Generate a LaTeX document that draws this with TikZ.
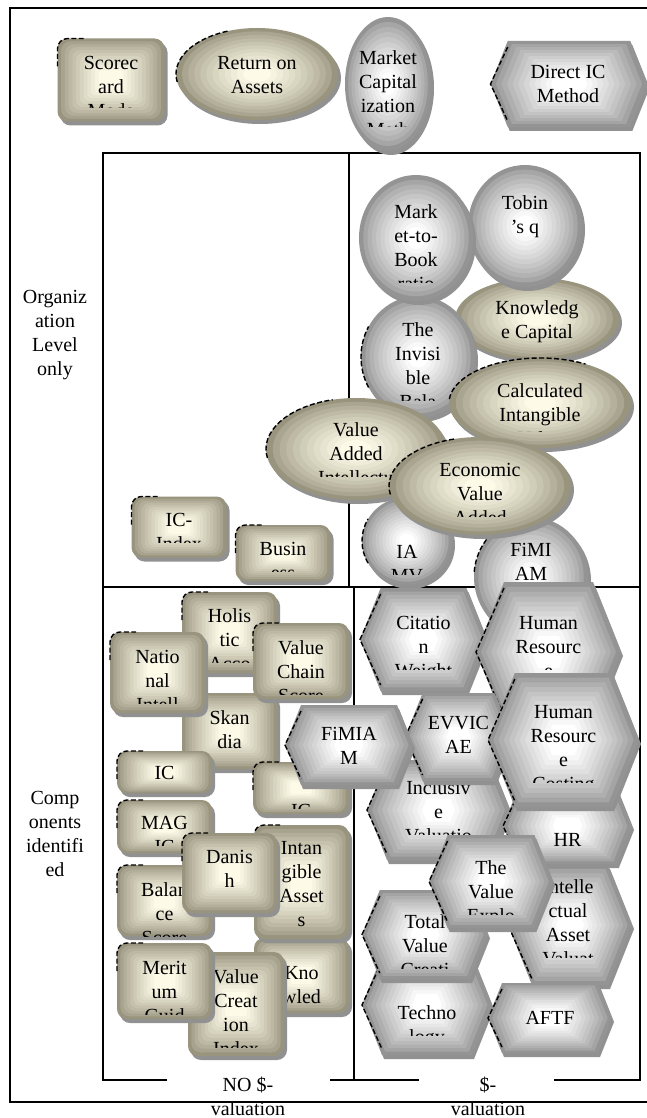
\documentclass[tikz,border=0pt]{standalone}
\usepackage{fontspec}
\setmainfont{Liberation Serif}
\definecolor{tanO}{RGB}{152,148,126}
\definecolor{tanI}{RGB}{253,250,232}
\definecolor{gryO}{RGB}{148,148,148}
\definecolor{gryI}{RGB}{255,255,255}
\definecolor{shd}{RGB}{145,145,145}
\tikzset{
  lbl/.style={font=\fontsize{20}{24}\selectfont, align=center, inner sep=0pt, anchor=north},
  frameline/.style={line width=1.2pt, black},
  artefact/.style={black, line width=1.4pt, dash pattern=on 5pt off 2.5pt}
}
% rounded rectangle: cx cy w h palette
\newcommand\RR[5]{%
  \fill[shd, rounded corners=10pt] (#1-#3/2+3,#2-#4/2+4) rectangle (#1+#3/2+3,#2+#4/2+4);
  \foreach \gI in {0,...,11}{%
    \pgfmathsetmacro\gS{1-\gI*0.07}%
    \pgfmathsetmacro\gP{100*(\gI/11)^0.8}%
    \fill[#5I!\gP!#5O, rounded corners=10pt*\gS] (#1-#3*\gS/2,#2-#4*\gS/2) rectangle (#1+#3*\gS/2,#2+#4*\gS/2);
  }}
% ellipse: cx cy rx ry palette
\newcommand\EL[5]{%
  \fill[shd] (#1+3,#2+4) ellipse [x radius=#3, y radius=#4];
  \foreach \gI in {0,...,11}{%
    \pgfmathsetmacro\gS{1-\gI*0.075}%
    \pgfmathsetmacro\gP{100*(\gI/11)^0.75}%
    \fill[#5I!\gP!#5O] (#1,#2) ellipse [x radius=#3*\gS, y radius=#4*\gS];
  }}
% hexagon: cx cy w h palette
\newcommand\HX[5]{%
  \pgfmathsetmacro\gK{0.2*#4}%
  \fill[shd] (#1-#3/2+2,#2+4) -- (#1-#3/2+\gK+2,#2-#4/2+4) -- (#1+#3/2-\gK+2,#2-#4/2+4) -- (#1+#3/2+2,#2+4) -- (#1+#3/2-\gK+2,#2+#4/2+4) -- (#1-#3/2+\gK+2,#2+#4/2+4) -- cycle;
  \foreach \gI in {0,...,11}{%
    \pgfmathsetmacro\gS{1-\gI*0.07}%
    \pgfmathsetmacro\gP{100*(\gI/11)^0.8}%
    \pgfmathsetmacro\gW{#3*\gS/2}%
    \pgfmathsetmacro\gH{#4*\gS/2}%
    \pgfmathsetmacro\gQ{\gK*\gS}%
    \fill[#5I!\gP!#5O] (#1-\gW,#2) -- (#1-\gW+\gQ,#2-\gH) -- (#1+\gW-\gQ,#2-\gH) -- (#1+\gW,#2) -- (#1+\gW-\gQ,#2+\gH) -- (#1-\gW+\gQ,#2+\gH) -- cycle;
  }
  \draw[artefact] (#1-#3/2+\gK,#2-#4/2+6) -- (#1-#3/2,#2) -- (#1-#3/2+\gK,#2+#4/2-6);}
% artefact marks: rounded rect top-left corner (cx cy w h)
\newcommand\RD[4]{%
  \draw[artefact, rounded corners=10pt] (#1-#3/2,#2-#4/2+28) -- (#1-#3/2,#2-#4/2) -- (#1-#3/2+26,#2-#4/2);}
% ellipse arc (cx cy rx ry start end), user angles (y points down)
\newcommand\ED[6]{%
  \draw[artefact] (#1,#2) ++(#5:#3 and #4) arc[start angle=#5, end angle=#6, x radius=#3, y radius=#4];}
% text: name cx firstline-y clip-y text
\newcommand\TX[5]{%
  \begin{scope}
    \clip (#2-80,#3-30) rectangle (#2+80,#4);
    \node[lbl] (#1) at (#2,#3-9.5) {\rule{0pt}{16pt}#5};
  \end{scope}}

\begin{document}
\begin{tikzpicture}[x=1pt,y=-1pt]
\useasboundingbox (0,0) rectangle (647,1118);
\fill[white] (0,0) rectangle (647,1118);

% frames
\draw[frameline] (647,8) -- (10,8) -- (10,1102) -- (647,1102);
\draw[frameline] (167,1080) -- (103,1080) -- (103,153) -- (640,153) -- (640,1080) -- (554,1080);
\draw[frameline] (330,1080) -- (419,1080);
\draw[frameline] (103,587) -- (640,587);
\draw[frameline] (349,153) -- (349,587);
\draw[frameline] (354,587) -- (354,1080);

% axis labels
\node[lbl] (org) at (55,287.5) {\rule{0pt}{16pt}Organiz\\ation\\Level\\only};
\node[lbl] (comp) at (55,788.5) {\rule{0pt}{16pt}Comp\\onents\\identifi\\ed};
\node[lbl] (nov) at (248,1075.5) {\rule{0pt}{16pt}NO \$-\\valuation};
\node[lbl] (dv) at (488,1075.5) {\rule{0pt}{16pt}\$-\\valuation};

% top row
\RR{111}{80}{107}{83}{tan}\RD{111}{80}{107}{83}\TX{t-sc}{111}{63}{108}{Scorec\\ard\\Mode}
\EL{257}{74}{81}{46}{tan}\ED{257}{74}{81}{46}{170}{250}\TX{t-roa}{257}{63}{200}{Return on\\Assets}
\EL{388}{84}{43}{67}{gry}\TX{t-mcm}{388}{58}{127}{Market\\Capital\\ization\\Meth}
\HX{569}{84}{157}{86}{gry}\TX{t-dic}{568}{72}{200}{Direct IC\\Method}

% organisation level, $-valuation
\EL{537}{319}{82}{41}{tan}\TX{t-kc}{537}{308}{400}{Knowledg\\e Capital}
\EL{525}{226}{57}{61}{gry}\TX{t-tob}{525}{203}{300}{Tobin\\’s q}
\EL{418}{357}{57}{61}{gry}\ED{418}{357}{57}{61}{150}{210}\TX{t-ibs}{418}{330}{400}{The\\Invisi\\ble\\Bala}
\EL{416}{238}{57}{63}{gry}\TX{t-mtb}{416}{212}{282}{Mark\\et-to-\\Book\\ratio}
\EL{540}{403}{91}{45}{tan}\ED{540}{403}{91}{45}{185}{300}\TX{t-civ}{540}{391}{431}{Calculated\\Intangible\\Value}
\EL{356}{449}{90}{51}{tan}\ED{356}{449}{90}{51}{170}{255}\TX{t-vaic}{356}{430}{476}{Value\\Added\\Intellectu}
\EL{407}{541}{45}{44}{gry}\ED{407}{541}{45}{44}{150}{210}\TX{t-iamv}{407}{552}{574}{IA\\MV}
\EL{531}{577}{57}{60}{gry}\ED{531}{577}{57}{60}{185}{260}\TX{t-fim}{531}{550}{600}{FiMI\\AM}
\EL{480}{486}{91}{49}{tan}\ED{480}{486}{91}{49}{170}{255}\TX{t-eva}{480}{470}{516}{Economic\\Value\\Added}
\RR{179}{527}{95}{61}{tan}\RD{179}{527}{95}{61}\TX{t-ici}{179}{520}{542}{IC-\\Index}
\RR{283}{553}{95}{56}{tan}\RD{283}{553}{95}{56}\TX{t-biq}{283}{549}{571}{Busin\\ess}

% components, no $-valuation
\RR{229.5}{632.5}{95}{81}{tan}\RD{229.5}{632.5}{95}{81}\TX{t-hol}{229.5}{616}{662}{Holis\\tic\\Acco}
\RR{229.5}{731}{95}{76}{tan}\TX{t-ska}{229.5}{718}{757}{Skan\\dia\\Navi}
\RR{157.5}{672.5}{95}{81}{tan}\RD{157.5}{672.5}{95}{81}\TX{t-nat}{157.5}{657}{703}{Natio\\nal\\Intell}
\RR{301}{661}{96}{76}{tan}\RD{301}{661}{96}{76}\TX{t-vcs}{301}{648}{694}{Value\\Chain\\Score}
\RR{301}{788}{96}{52}{tan}\RD{301}{788}{96}{52}\TX{t-icx}{301}{811}{808}{IC}
\RR{164.5}{772}{95}{42}{tan}\RD{164.5}{772}{95}{42}\TX{t-icr}{164.5}{773}{784}{IC}
\RR{301.5}{975.5}{95}{75}{tan}\TX{t-kno}{301.5}{973}{1008}{Kno\\wled\\ge}
\RR{301.5}{882}{95}{114}{tan}\RD{301.5}{882}{95}{114}\TX{t-iam}{301.5}{848}{935}{Intan\\gible\\Asset\\s}
\RR{164.5}{826.5}{95}{53}{tan}\RD{164.5}{826.5}{95}{53}\TX{t-mag}{164.5}{823}{845}{MAG\\IC}
\RR{164.5}{900.5}{95}{71}{tan}\RD{164.5}{900.5}{95}{71}\TX{t-bal}{164.5}{890}{936}{Balan\\ce\\Score}
\RR{229.5}{873}{95}{80}{tan}\RD{229.5}{873}{95}{80}\TX{t-dan}{229.5}{857}{895}{Danis\\h}
\RR{236}{1004}{96}{104}{tan}\TX{t-vci}{236}{977}{1047}{Value\\Creat\\ion\\Index}
\RR{164.5}{981}{95}{76}{tan}\RD{164.5}{981}{95}{76}\TX{t-mer}{164.5}{968}{1014}{Merit\\um\\Guid}

% components, $-valuation
\HX{423.5}{639.5}{127}{103}{gry}\TX{t-cit}{423.5}{623}{669}{Citatio\\n\\Weight}
\HX{548.5}{652}{145}{140}{gry}\TX{t-hra}{548.5}{623}{669}{Human\\Resourc\\e}
\HX{427}{1005}{130}{100}{gry}\TX{t-tec}{427}{1013}{1035}{Techno\\logy}
\HX{425}{934.5}{126}{89}{gry}\TX{t-tvc}{425}{922}{968}{Total\\Value\\Creati}
\HX{570}{925}{124}{120}{gry}\TX{t-iav}{568}{887}{957}{Intelle\\ctual\\Asset\\Valuat}
\HX{550}{1018}{124}{70}{gry}\TX{t-aftf}{550}{1018}{1040}{AFTF}
\HX{438.5}{810}{143}{100}{gry}\TX{t-inc}{438.5}{788}{834}{Inclusiv\\e\\Valuatio}
\HX{567.5}{826}{129}{76}{gry}\TX{t-hrs}{567.5}{840}{856}{HR}
\HX{458.5}{737}{107}{88}{gry}\TX{t-evv}{458.5}{723}{780}{EVVIC\\AE}
\HX{349}{745}{128}{80}{gry}\TX{t-fimh}{349}{734}{790}{FiMIA\\M}
\HX{563.5}{740}{151}{134}{gry}\TX{t-hrc}{563.5}{712}{782}{Human\\Resourc\\e\\Costing}
\HX{491}{881.5}{124}{93}{gry}\TX{t-tve}{491}{868}{914}{The\\Value\\Explo}
\end{tikzpicture}
\end{document}
